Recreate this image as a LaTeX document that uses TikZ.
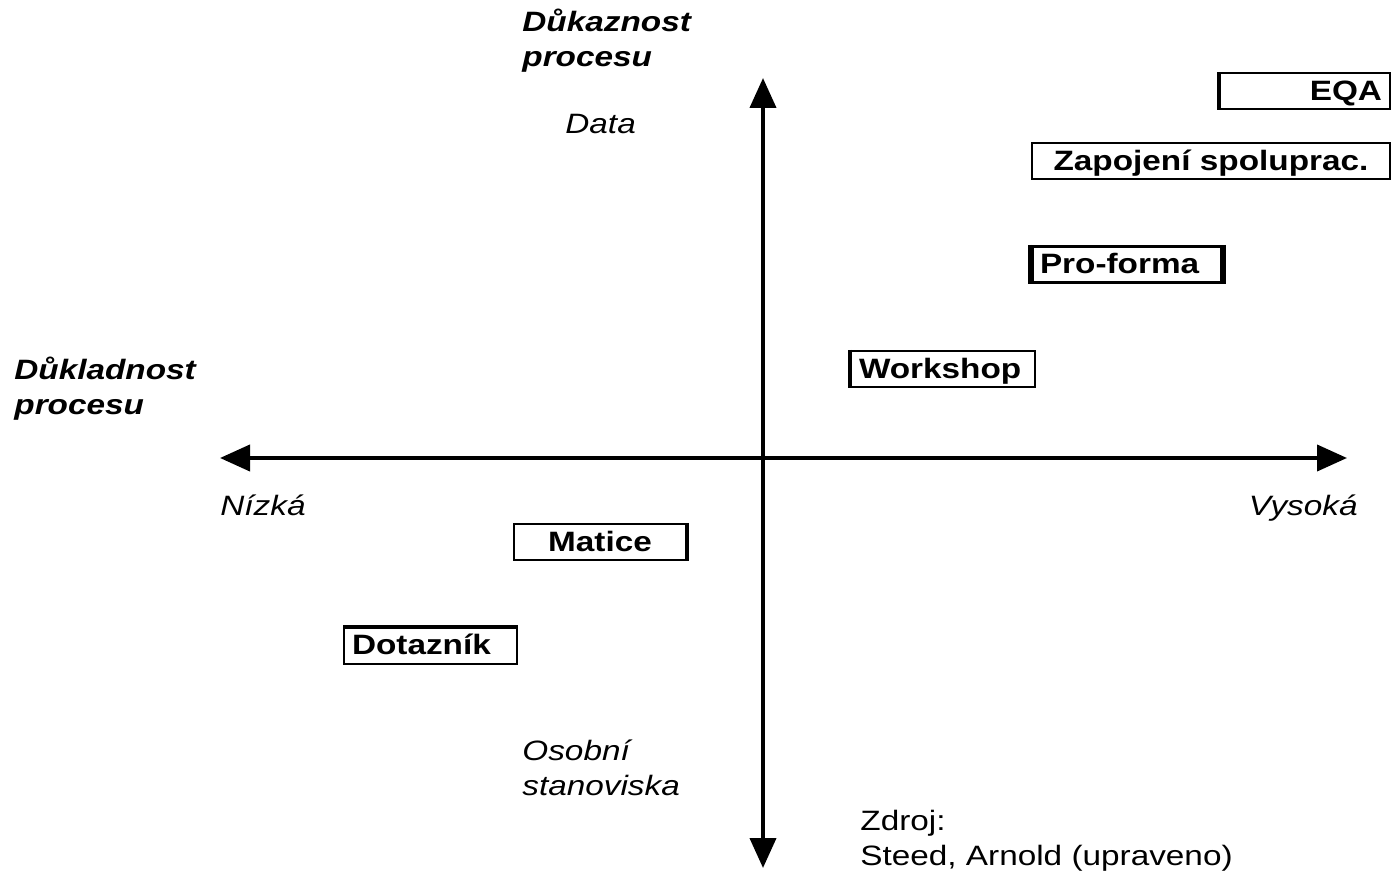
\documentclass[tikz,border=0pt]{standalone}
\usepackage{fontspec}
\setmainfont{Liberation Sans}[FakeStretch=1.19]
\usetikzlibrary{arrows.meta}

\begin{document}
\begin{tikzpicture}[x=0.5pt,y=-0.5pt,>={Triangle[length=15pt,width=13pt]}]
        \tikzstyle{osa}=[line width=2pt]
        \tikzstyle{popis}=[inner sep=0pt,align=left,font=\fontsize{14pt}{17.5pt}\selectfont\itshape]
        \tikzstyle{nadpis}=[popis,font=\fontsize{14pt}{17.5pt}\selectfont\bfseries\itshape]
        \tikzstyle{akce}=[rectangle,draw,line width=1pt,inner xsep=4pt,inner ysep=0pt,minimum height=18pt,text depth=1pt,font=\fontsize{14pt}{17.5pt}\selectfont\bfseries]
        \tikzstyle{bok}=[line width=2pt]
        \useasboundingbox (0,0) rectangle (1398,871);
        % osy
        \coordinate (top) at (763,78);
        \coordinate (bottom) at (763,868);
        \coordinate (left) at (220,458);
        \coordinate (right) at (1347,458);
        \draw[osa,<->] (left) -- (right);
        \draw[osa,<->] (bottom) -- (top);
        % popisy os
        \node[nadpis,anchor=west] (dukaz) at (522,41) {Důkaznost\\procesu};
        \node[popis,anchor=base west] (data) at (565,134) {Data};
        \node[nadpis,anchor=west] (duklad) at (14,389) {Důkladnost\\procesu};
        \node[popis,anchor=base west] (nizka) at (220,516) {Nízká};
        \node[popis,anchor=base east] (vysoka) at (1358,516) {Vysoká};
        \node[popis,anchor=west] (osobni) at (522,768) {Osobní\\stanoviska};
        \node[popis,anchor=west,font=\fontsize{14pt}{17.5pt}\selectfont] (zdroj) at (860,841) {Zdroj:\\Steed, Arnold (upraveno)};
        % metody
        \node[akce,text width=77pt,align=right] (eqa) at (1305,91.5) {EQA};
        \node[akce,text width=171pt,align=center] (zapojeni) at (1211,161.5) {Zapojení spoluprac.};
        \node[akce,text width=87pt,align=left,line width=1.6pt] (proforma) at (1127,264.5) {Pro-forma};
        \node[akce,text width=84pt,align=left] (workshop) at (943,369) {Workshop};
        \node[akce,text width=78pt,align=center] (matice) at (600,542) {Matice};
        \node[akce,text width=78.5pt,align=left] (dotaznik) at (430.5,645.5) {Dotazník};
        \draw[bok] (eqa.north west) -- (eqa.south west);
        \draw[bok] (proforma.north west) -- (proforma.south west);
        \draw[bok] (proforma.north east) -- (proforma.south east);
        \draw[bok] (workshop.north west) -- (workshop.south west);
        \draw[bok] (matice.north east) -- (matice.south east);
        \draw[bok] (dotaznik.north west) -- (dotaznik.north east);
\end{tikzpicture}
\end{document}
